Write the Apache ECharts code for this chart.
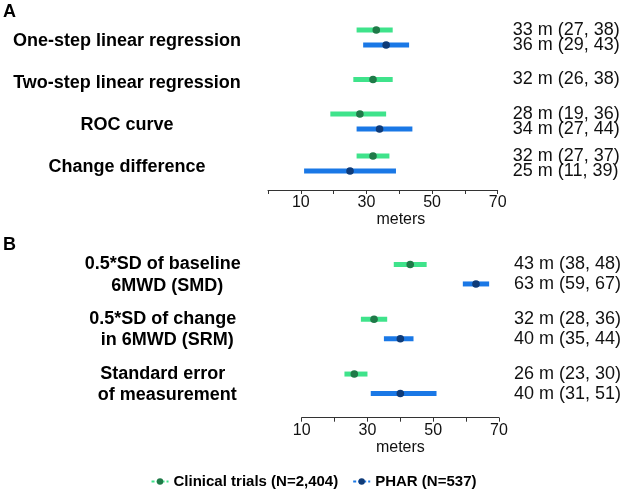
<!DOCTYPE html>
<html>
<head>
<meta charset="utf-8">
<script src="https://cdn.jsdelivr.net/npm/echarts@6/dist/echarts.min.js"></script>
<style>
  html, body { margin: 0; padding: 0; background: #fff; }
  #chart { width: 627px; height: 499px; }
</style>
</head>
<body>
<div id="chart"></div>
<script>
// panel A - anchor based methods
const methodsA = ['One-step linear regression', 'Two-step linear regression', 'ROC curve', 'Change difference'];
const trialEstA = [33, 32, 28, 32];
const trialLowA = [27, 26, 19, 27];
const trialHighA = [38, 38, 36, 37];
const pharEstA = [36, null, 34, 25];
const pharLowA = [29, null, 27, 11];
const pharHighA = [43, null, 44, 39];

// panel B - distribution based methods
const methodsB = ['0.5*SD of baseline\n6MWD (SMD)', '0.5*SD of change\nin 6MWD (SRM)', 'Standard error\nof measurement'];
const trialEstB = [43, 32, 26];
const trialLowB = [38, 28, 23];
const trialHighB = [48, 36, 30];
const pharEstB = [63, 40, 40];
const pharLowB = [59, 35, 31];
const pharHighB = [67, 44, 51];

const tickLabels = [10, 30, 50, 70];
const trialName = 'Clinical trials (N=2,404)';
const pharName = 'PHAR (N=537)';

const FONT = '"Liberation Sans", Arial, sans-serif';
const trialBar = '#3fe38b', trialDot = '#1f7a48';
const pharBar = '#1a78e6', pharDot = '#0f3b78';

// rows: [category, low, est, high, shift]; shift moves the row up/down when both groups exist
function rows (est, low, high, other, dir) {
  const out = [];
  est.forEach(function (v, i) {
    if (v == null) return;
    out.push([i, low[i], v, high[i], other[i] == null ? 0 : dir]);
  });
  return out;
}

function forest (barColor, dotColor) {
  return function (params, api) {
    const cat = api.value(0);
    const lo = api.coord([api.value(1), cat]);
    const mid = api.coord([api.value(2), cat]);
    const hi = api.coord([api.value(3), cat]);
    const band = api.size([0, 1])[1];
    const y = mid[1] + api.value(4) * band * 0.178;
    const textX = api.coord([70, cat])[0] + 15;
    return {
      type: 'group',
      children: [
        { type: 'rect', shape: { x: lo[0], y: y - 2.5, width: hi[0] - lo[0], height: 5 }, style: { fill: barColor } },
        { type: 'circle', shape: { cx: mid[0], cy: y, r: 3.8 }, style: { fill: dotColor } },
        {
          type: 'text',
          style: {
            text: api.value(2) + ' m (' + api.value(1) + ', ' + api.value(3) + ')',
            x: textX, y: y, align: 'left', verticalAlign: 'middle',
            fill: '#111', fontSize: 18, fontFamily: FONT
          }
        }
      ]
    };
  };
}

function xAxisCfg (gridIndex, min, offset) {
  return {
    gridIndex: gridIndex,
    type: 'value',
    min: min, max: 70, interval: 10,
    offset: offset,
    name: 'meters',
    nameLocation: 'middle',
    nameGap: 22,
    nameTextStyle: { fontSize: 16, fontFamily: FONT, color: '#111', padding: min === 0 ? [0, 0, 0, 36] : 0 },
    axisLine: { show: true, lineStyle: { color: '#333', width: 1 } },
    axisTick: { show: true, length: 4, lineStyle: { color: '#333' } },
    splitLine: { show: false },
    axisLabel: {
      margin: 5, fontSize: 16, fontFamily: FONT, color: '#111',
      formatter: function (v) { return tickLabels.indexOf(v) >= 0 ? String(v) : ''; }
    }
  };
}

// first line gets a top padding so the label block sits a bit lower than the band centre,
// second lines are nudged right like in the original figure
function yAxisCfg (gridIndex, cats, margin, padTop, lh) {
  const txt = { fontSize: 18, fontWeight: 'bold', fontFamily: FONT, color: '#000', lineHeight: lh };
  return {
    gridIndex: gridIndex,
    type: 'category',
    data: cats,
    inverse: true,
    axisLine: { show: false },
    axisTick: { show: false },
    axisLabel: {
      margin: margin, align: 'center',
      formatter: function (v) {
        return v.split('\n').map(function (s, i) { return (i === 0 ? '{p|' : '{t|') + s + '}'; }).join('\n');
      },
      rich: {
        p: Object.assign({}, txt, { padding: [padTop, 0, 0, 0] }),
        t: Object.assign({}, txt, { padding: [0, 0, 0, 9] })
      }
    }
  };
}

let chart = echarts.init(document.getElementById('chart'));
chart.setOption({
  animation: false,
  title: [
    { text: 'A', left: 3, top: 3, padding: 0, textStyle: { fontSize: 18, fontWeight: 'bold', fontFamily: FONT, color: '#000' } },
    { text: 'B', left: 3, top: 236, padding: 0, textStyle: { fontSize: 18, fontWeight: 'bold', fontFamily: FONT, color: '#000' } }
  ],
  legend: {
    bottom: 5,
    left: 'center',
    itemWidth: 17,
    itemHeight: 8,
    itemGap: 14,
    textStyle: { fontSize: 15, fontWeight: 'bold', fontFamily: FONT, color: '#000' },
    data: [trialName, pharName]
  },
  grid: [
    { left: 268, right: 129.3, top: 16.5, height: 168 },
    { left: 301.7, right: 128, top: 246.8, height: 164.4 }
  ],
  xAxis: [xAxisCfg(0, 0, 5.5), xAxisCfg(1, 10, 6.5)],
  yAxis: [yAxisCfg(0, methodsA, 141, 7, 21), yAxisCfg(1, methodsB, 139, 3, 23)],
  series: [
    // legend only
    { name: trialName, type: 'line', data: [], symbol: 'circle',
      lineStyle: { color: trialBar, width: 4, type: [3, 2] }, itemStyle: { color: trialDot } },
    { name: pharName, type: 'line', data: [], symbol: 'circle',
      lineStyle: { color: pharBar, width: 4, type: [3, 2] }, itemStyle: { color: pharDot } },
    { name: trialName, type: 'custom', xAxisIndex: 0, yAxisIndex: 0,
      renderItem: forest(trialBar, trialDot), encode: { x: [1, 2, 3], y: 0 },
      data: rows(trialEstA, trialLowA, trialHighA, pharEstA, -1) },
    { name: pharName, type: 'custom', xAxisIndex: 0, yAxisIndex: 0,
      renderItem: forest(pharBar, pharDot), encode: { x: [1, 2, 3], y: 0 },
      data: rows(pharEstA, pharLowA, pharHighA, trialEstA, 1) },
    { name: trialName, type: 'custom', xAxisIndex: 1, yAxisIndex: 1,
      renderItem: forest(trialBar, trialDot), encode: { x: [1, 2, 3], y: 0 },
      data: rows(trialEstB, trialLowB, trialHighB, pharEstB, -1) },
    { name: pharName, type: 'custom', xAxisIndex: 1, yAxisIndex: 1,
      renderItem: forest(pharBar, pharDot), encode: { x: [1, 2, 3], y: 0 },
      data: rows(pharEstB, pharLowB, pharHighB, trialEstB, 1) }
  ]
});
</script>
</body>
</html>
